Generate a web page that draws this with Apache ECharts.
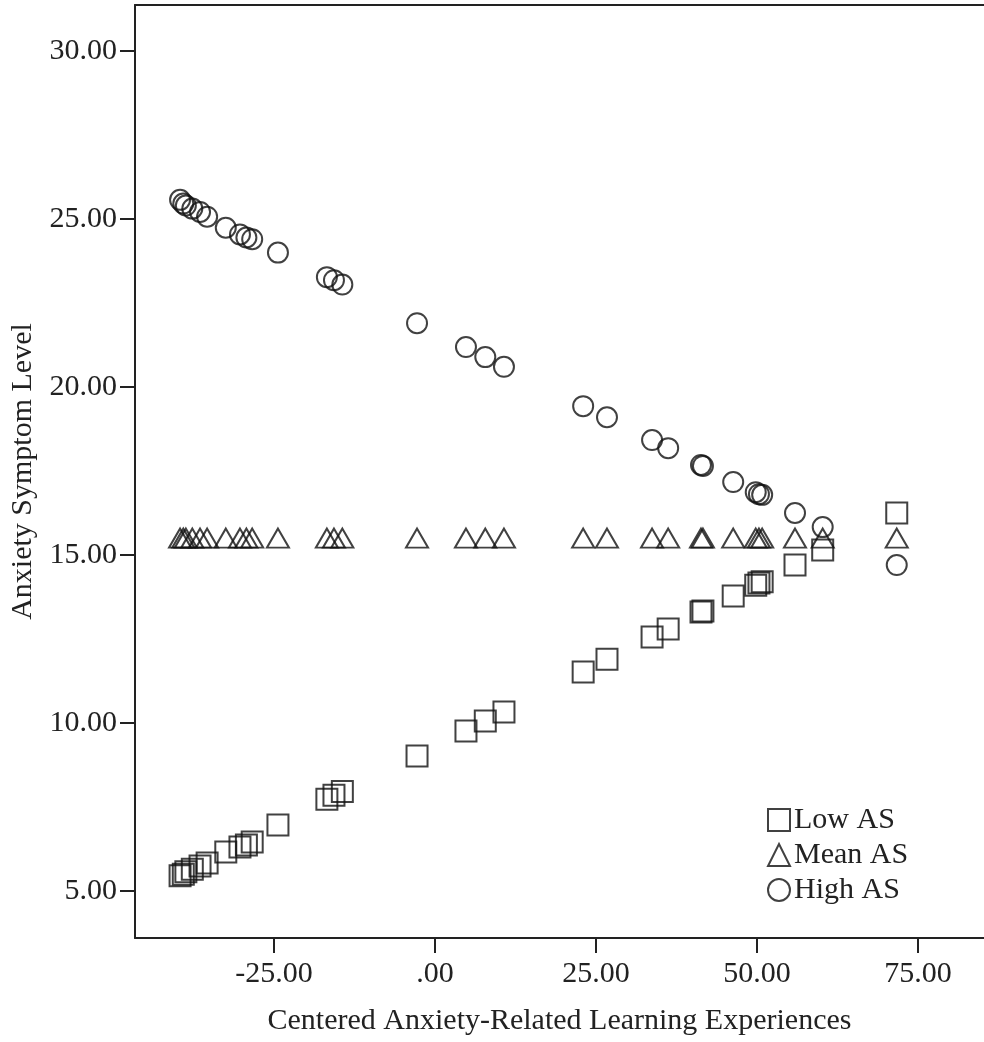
<!DOCTYPE html>
<html>
<head>
<meta charset="utf-8">
<script src="https://cdn.jsdelivr.net/npm/echarts@6/dist/echarts.min.js"></script>
<style>
  html, body { margin: 0; padding: 0; background: #fff; }
  #chart { width: 984px; height: 1042px; }
</style>
</head>
<body>
<div id="chart"></div>
<script>
// centered learning experiences (x), shared by the three AS levels
const xVals = [-39.6, -39.1, -38.7, -37.7, -36.5, -35.4, -32.5, -30.3, -29.3, -28.4,
  -24.4, -16.8, -15.7, -14.4, -2.8, 4.8, 7.8, 10.7, 23.0, 26.7,
  33.7, 36.2, 41.3, 41.6, 46.3, 49.8, 50.3, 50.8, 55.9, 60.2, 71.7];
const lowAS = [5.45, 5.50, 5.57, 5.65, 5.74, 5.83, 6.16, 6.31, 6.37, 6.46,
  6.96, 7.73, 7.85, 7.96, 9.02, 9.76, 10.06, 10.33, 11.52, 11.90,
  12.56, 12.80, 13.30, 13.33, 13.78, 14.10, 14.17, 14.20, 14.70, 15.15, 16.25];
const meanAS = [15.5, 15.5, 15.5, 15.5, 15.5, 15.5, 15.5, 15.5, 15.5, 15.5,
  15.5, 15.5, 15.5, 15.5, 15.5, 15.5, 15.5, 15.5, 15.5, 15.5,
  15.5, 15.5, 15.5, 15.5, 15.5, 15.5, 15.5, 15.5, 15.5, 15.5, 15.5];
const highAS = [25.57, 25.46, 25.40, 25.31, 25.21, 25.07, 24.74, 24.54, 24.45, 24.40,
  24.00, 23.27, 23.18, 23.05, 21.90, 21.19, 20.89, 20.60, 19.43, 19.10,
  18.42, 18.18, 17.68, 17.65, 17.17, 16.87, 16.81, 16.79, 16.25, 15.83, 14.70];
const xTicks = [-25, 0, 25, 50, 75];
const yTicks = [5, 10, 15, 20, 25, 30];

const font = '"Liberation Serif", "Times New Roman", serif';
const ink = '#222';

const zip = ys => xVals.map((x, i) => [x, ys[i]]);
const fmt = v => (v === 0 ? '.00' : v.toFixed(2));

const myChart = echarts.init(document.getElementById('chart'));

const markerStyle = {
  color: 'rgba(0,0,0,0)',
  borderColor: '#111',
  borderWidth: 2
};

const option = {
  animation: false,
  grid: { left: 135, right: 0, top: 5, bottom: 104 },
  legend: {
    orient: 'vertical',
    left: 762,
    top: 800,
    itemWidth: 22,
    itemHeight: 22,
    itemGap: 5,
    textStyle: { fontFamily: font, fontSize: 30, color: ink, padding: [0, 0, 0, -1] },
    data: ['Low AS', 'Mean AS', 'High AS']
  },
  xAxis: [{
    type: 'value',
    min: -46.6,
    max: 85.25,
    name: 'Centered Anxiety-Related Learning Experiences',
    nameLocation: 'middle',
    nameGap: 68,
    nameTextStyle: { fontFamily: font, fontSize: 30, color: ink },
    axisLine: { onZero: false, lineStyle: { color: ink, width: 2 } },
    axisTick: { show: true, length: 15, customValues: xTicks, lineStyle: { color: ink, width: 2 } },
    axisLabel: { customValues: xTicks, formatter: fmt, margin: 21, fontFamily: font, fontSize: 30, color: ink },
    splitLine: { show: false }
  }, {
    type: 'value',
    position: 'top',
    min: -46.6,
    max: 85.25,
    axisLine: { show: true, onZero: false, lineStyle: { color: ink, width: 2 } },
    axisTick: { show: false },
    axisLabel: { show: false },
    splitLine: { show: false }
  }],
  yAxis: {
    type: 'value',
    min: 3.6,
    max: 31.37,
    name: 'Anxiety Symptom Level',
    nameLocation: 'middle',
    nameGap: 94,
    nameTextStyle: { fontFamily: font, fontSize: 30, color: ink },
    axisLine: { show: true, onZero: false, lineStyle: { color: ink, width: 2 } },
    axisTick: { show: true, length: 15, customValues: yTicks, lineStyle: { color: ink, width: 2 } },
    axisLabel: { customValues: yTicks, formatter: fmt, margin: 18, fontFamily: font, fontSize: 30, color: ink },
    splitLine: { show: false }
  },
  series: [
    {
      name: 'Low AS',
      type: 'scatter',
      symbol: 'rect',
      symbolSize: 21,
      itemStyle: markerStyle,
      data: zip(lowAS)
    },
    {
      name: 'Mean AS',
      type: 'scatter',
      symbol: 'triangle',
      symbolSize: [22, 19],
      itemStyle: markerStyle,
      data: zip(meanAS)
    },
    {
      name: 'High AS',
      type: 'scatter',
      symbol: 'circle',
      symbolSize: 20,
      itemStyle: markerStyle,
      data: zip(highAS)
    }
  ]
};

myChart.setOption(option, true);
</script>
</body>
</html>
